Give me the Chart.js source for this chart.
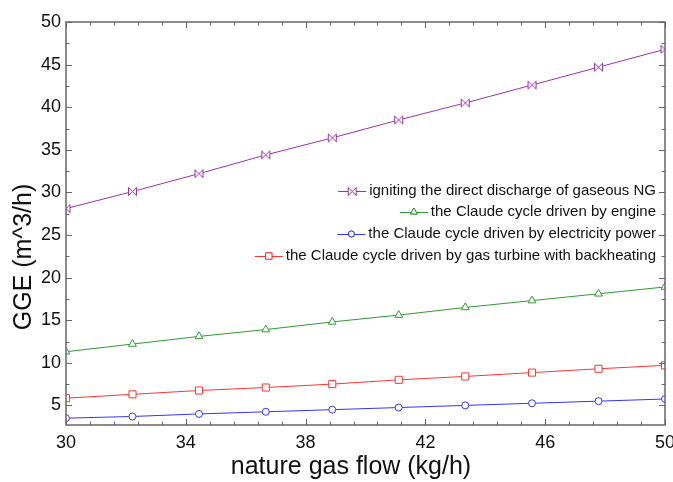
<!DOCTYPE html>
<html>
<head>
<meta charset="utf-8">
<script src="https://cdn.jsdelivr.net/npm/chart.js"></script>
<style>
  html, body { margin: 0; padding: 0; background: #fff; }
  #wrap { width: 673px; height: 482px; }
</style>
</head>
<body>
<div id="wrap"><canvas id="gge"></canvas></div>
<script>
// data
const flow = [30, 32.22, 34.44, 36.67, 38.89, 41.11, 43.33, 45.56, 47.78, 50];
const ignitingNG = [28.1, 30.1, 32.2, 34.4, 36.4, 38.5, 40.5, 42.6, 44.7, 46.8];
const engineCycle = [11.3, 12.2, 13.1, 13.9, 14.8, 15.6, 16.5, 17.3, 18.1, 18.9];
const electricCycle = [3.5, 3.7, 4.0, 4.25, 4.5, 4.75, 5.0, 5.25, 5.5, 5.75];
const turbineCycle = [5.85, 6.3, 6.75, 7.1, 7.5, 8.0, 8.4, 8.85, 9.3, 9.7];

const xTicks = [30, 34, 38, 42, 46, 50];
const yTicks = [5, 10, 15, 20, 25, 30, 35, 40, 45, 50];

const FONT = "Arial, 'Liberation Sans', sans-serif";

// bowtie marker for the purple series
function bowtie(color) {
    const c = document.createElement('canvas');
    c.width = 11; c.height = 11;
    const g = c.getContext('2d');
    g.strokeStyle = color;
    g.fillStyle = '#fff';
    g.lineWidth = 1;
    g.beginPath();
    g.moveTo(1.5, 1.5);
    g.lineTo(9.5, 9.5);
    g.lineTo(9.5, 1.5);
    g.lineTo(1.5, 9.5);
    g.closePath();
    g.fill();
    g.stroke();
    return c;
}

const toPts = ys => flow.map((x, i) => ({ x: x, y: ys[i] }));

function series(label, ys, color, style, r) {
    return {
        label: label,
        data: toPts(ys),
        borderColor: color,
        backgroundColor: '#fff',
        borderWidth: 1,
        pointStyle: style,
        pointRadius: r,
        pointBorderWidth: 1,
        pointBorderColor: color,
        pointBackgroundColor: '#fff',
        tension: 0
    };
}

const purple = '#9933aa', green = '#339933', blue = '#3333ff', red = '#ff3333';

// box, inward ticks and minor ticks
const frame = {
    id: 'frame',
    afterDatasetsDraw(chart) {
        const { ctx, chartArea: a, scales: { x, y } } = chart;
        ctx.save();
        ctx.strokeStyle = '#666';
        ctx.lineWidth = 1;
        ctx.beginPath();
        const tickX = (v, len) => {
            const px = Math.round(x.getPixelForValue(v)) + 0.5;
            ctx.moveTo(px, a.bottom); ctx.lineTo(px, a.bottom - len);
            ctx.moveTo(px, a.top); ctx.lineTo(px, a.top + len);
        };
        const tickY = (v, len) => {
            const py = Math.round(y.getPixelForValue(v)) + 0.5;
            ctx.moveTo(a.left, py); ctx.lineTo(a.left + len, py);
            ctx.moveTo(a.right, py); ctx.lineTo(a.right - len, py);
        };
        xTicks.forEach(v => tickX(v, 6));
        for (let v = 30.8; v < 50; v += 0.8) {
            if (!xTicks.some(t => Math.abs(t - v) < 0.01)) tickX(v, 3.5);
        }
        yTicks.forEach(v => tickY(v, 6));
        for (let v = 7.5; v < 50; v += 5) tickY(v, 3.5);
        ctx.stroke();
        ctx.lineWidth = 1.5;
        ctx.strokeRect(a.left, a.top, a.right - a.left, a.bottom - a.top);

        // axis titles
        ctx.fillStyle = '#111';
        ctx.font = '25px ' + FONT;
        ctx.textAlign = 'center';
        ctx.textBaseline = 'middle';
        ctx.fillText('nature gas flow (kg/h)', 351, 467);
        ctx.translate(24, 257);
        ctx.rotate(-Math.PI / 2);
        ctx.fillText('GGE (m^3/h)', 0, 0);
        ctx.restore();
    }
};

// right-aligned legend inside the plot
const innerLegend = {
    id: 'innerLegend',
    afterDraw(chart) {
        const { ctx } = chart;
        const rows = [191, 212, 234, 256];
        const right = 656;
        ctx.save();
        ctx.font = '15px ' + FONT;
        ctx.textBaseline = 'middle';
        ctx.textAlign = 'right';
        chart.data.datasets.forEach((ds, i) => {
            const yy = rows[i];
            const w = ctx.measureText(ds.label).width;
            ctx.fillStyle = '#111';
            ctx.fillText(ds.label, right, yy);
            const x1 = right - w - 3, x0 = x1 - 28;
            ctx.strokeStyle = ds.borderColor;
            ctx.lineWidth = 1;
            ctx.beginPath();
            ctx.moveTo(x0, yy + 0.5); ctx.lineTo(x1, yy + 0.5);
            ctx.stroke();
            const mx = (x0 + x1) / 2;
            if (ds.pointStyle instanceof HTMLCanvasElement) {
                ctx.drawImage(ds.pointStyle, mx - 5.5, yy - 5);
            } else {
                ctx.fillStyle = '#fff';
                Chart.helpers.drawPoint(ctx, {
                    pointStyle: ds.pointStyle,
                    radius: ds.pointRadius - 0.5,
                    rotation: 0,
                    borderWidth: 1
                }, mx, yy);
                ctx.fill();
                ctx.stroke();
            }
        });
        ctx.restore();
    }
};

new Chart(document.getElementById('gge'), {
    type: 'line',
    data: {
        datasets: [
            series('igniting the direct discharge of gaseous NG', ignitingNG, purple, bowtie(purple), 5),
            series('the Claude cycle driven by engine', engineCycle, green, 'triangle', 4.5),
            series('the Claude cycle driven by electricity power', electricCycle, blue, 'circle', 3.5),
            series('the Claude cycle driven by gas turbine with backheating', turbineCycle, red, 'rect', 5)
        ]
    },
    options: {
        responsive: true,
        maintainAspectRatio: false,
        animation: false,
        layout: { padding: { top: 22, right: 8, left: 0, bottom: 0 } },
        plugins: {
            legend: { display: false },
            tooltip: { enabled: false }
        },
        scales: {
            x: {
                type: 'linear',
                min: 30,
                max: 50,
                afterBuildTicks: s => { s.ticks = xTicks.map(v => ({ value: v })); },
                afterFit: s => { s.height = 57; s.paddingLeft = 0; s.paddingRight = 0; },
                grid: { display: false, drawTicks: false },
                border: { display: false },
                ticks: {
                    padding: 7,
                    color: '#111',
                    font: { family: FONT, size: 18 },
                    maxRotation: 0
                }
            },
            y: {
                type: 'linear',
                min: 2.7,
                max: 50,
                afterBuildTicks: s => { s.ticks = yTicks.map(v => ({ value: v })); },
                afterFit: s => { s.width = 66; s.paddingTop = 0; s.paddingBottom = 0; },
                grid: { display: false, drawTicks: false },
                border: { display: false },
                ticks: {
                    padding: 5,
                    color: '#111',
                    font: { family: FONT, size: 18 }
                }
            }
        }
    },
    plugins: [frame, innerLegend]
});
</script>
</body>
</html>
